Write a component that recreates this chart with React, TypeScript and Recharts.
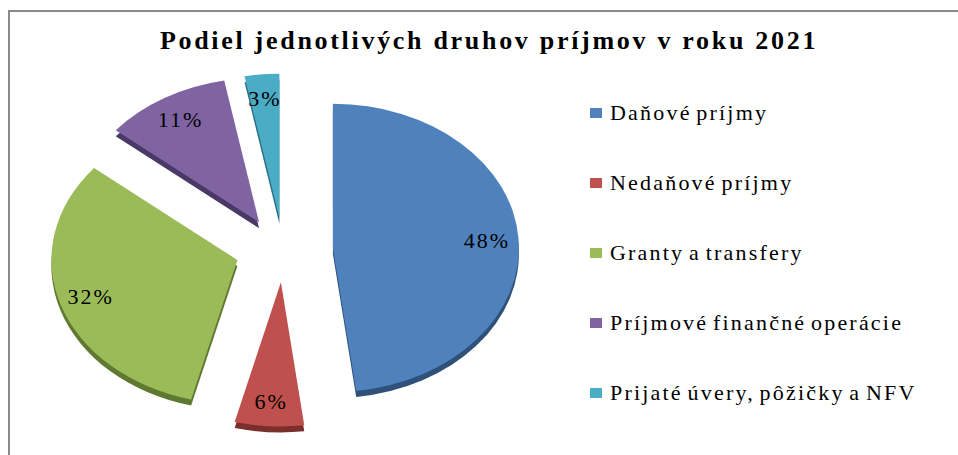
import { Legend, Pie, PieChart } from 'recharts';

const categories = [
  'Daňové príjmy',
  'Nedaňové príjmy',
  'Granty a transfery',
  'Príjmové finančné operácie',
  'Prijaté úvery, pôžičky a NFV',
];
const shares = [48, 6, 32, 11, 3];
const colors = ['#4F81BD', '#C0504D', '#9BBB59', '#8064A2', '#4BACC6'];
const sideColors = ['#2f5078', '#7a2f2d', '#5f7a30', '#4a3866', '#2c6f82'];

const data = categories.map((name, i) => ({ name, value: shares[i], fill: colors[i], side: sideColors[i] }));

// 3D look: squash the pie vertically, push slices out, add a thin side
const TILT = 0.775;
const EXPLODE = 49;
const EXPLODE_TILT = 0.66;
const DEPTH = 6;
const RAD = Math.PI / 180;
const SERIF = "'Liberation Serif', 'Times New Roman', serif";

const apexOf = (cx: number, cy: number, mid: number) => ({
  x: cx + EXPLODE * Math.cos(mid * RAD),
  y: cy - EXPLODE * Math.sin(mid * RAD) * EXPLODE_TILT,
});

const slicePath = (ax: number, ay: number, r: number, start: number, end: number) => {
  const sx = ax + r * Math.cos(start * RAD);
  const sy = ay - r * Math.sin(start * RAD) * TILT;
  const ex = ax + r * Math.cos(end * RAD);
  const ey = ay - r * Math.sin(end * RAD) * TILT;
  const large = Math.abs(start - end) > 180 ? 1 : 0;
  return `M${ax},${ay} L${sx},${sy} A${r},${r * TILT} 0 ${large} 1 ${ex},${ey} Z`;
};

const TiltedSlice = (props: any) => {
  const { cx, cy, outerRadius, startAngle, endAngle, fill, payload } = props;
  const mid = (startAngle + endAngle) / 2;
  const a = apexOf(cx, cy, mid);
  const side = payload?.side ?? props.side ?? '#333';
  return (
    <g>
      <path d={slicePath(a.x, a.y + DEPTH, outerRadius, startAngle, endAngle)} fill={side} />
      <path d={slicePath(a.x, a.y, outerRadius, startAngle, endAngle)} fill={fill} />
    </g>
  );
};

const renderLabel = (props: any) => {
  const { cx, cy, outerRadius, startAngle, endAngle, value } = props;
  const mid = (startAngle + endAngle) / 2;
  const a = apexOf(cx, cy, mid);
  const r = outerRadius * 0.83;
  const x = a.x + r * Math.cos(mid * RAD);
  const y = a.y - r * Math.sin(mid * RAD) * TILT;
  return (
    <text
      x={x}
      y={y}
      textAnchor="middle"
      dominantBaseline="central"
      fill="#000"
      fontFamily={SERIF}
      fontSize={22}
      letterSpacing={2}
    >
      {`${value}%`}
    </text>
  );
};

const renderLegend = () => (
  <div style={{ fontFamily: SERIF }}>
    {data.map((d) => (
      <div key={d.name} style={{ display: 'flex', alignItems: 'center', height: 70 }}>
        <span style={{ width: 12, height: 10, background: d.fill, marginRight: 8, display: 'inline-block' }} />
        <span style={{ fontSize: 22, letterSpacing: 2.2, wordSpacing: -3, color: '#000' }}>{d.name}</span>
      </div>
    ))}
  </div>
);

export default function App() {
  return (
    <div style={{ position: 'absolute', left: 0, top: 0, width: 958, height: 455, background: '#fff', overflow: 'hidden' }}>
      <div
        style={{
          position: 'absolute',
          left: 8,
          top: 10,
          width: 960,
          height: 460,
          borderLeft: '2px solid #8a8a8a',
          borderTop: '2px solid #8a8a8a',
        }}
      />
      <div
        style={{
          position: 'absolute',
          left: 0,
          top: 26,
          width: 978,
          textAlign: 'center',
          fontFamily: SERIF,
          fontWeight: 'bold',
          fontSize: 26,
          letterSpacing: 2.7,
          color: '#000',
        }}
      >
        Podiel jednotlivých druhov príjmov v roku 2021
      </div>
      <div style={{ position: 'absolute', left: 0, top: 0 }}>
        <PieChart width={958} height={455} margin={{ top: 0, right: 0, bottom: 0, left: 0 }}>
          <Pie
            data={data}
            dataKey="value"
            nameKey="name"
            cx={284}
            cy={250}
            outerRadius={186}
            startAngle={90}
            endAngle={-270}
            stroke="none"
            shape={TiltedSlice}
            label={renderLabel}
            labelLine={false}
            isAnimationActive={false}
          />
          <Legend
            layout="vertical"
            content={renderLegend}
            wrapperStyle={{ position: 'absolute', left: 590, top: 78, width: 368 }}
          />
        </PieChart>
      </div>
    </div>
  );
}
